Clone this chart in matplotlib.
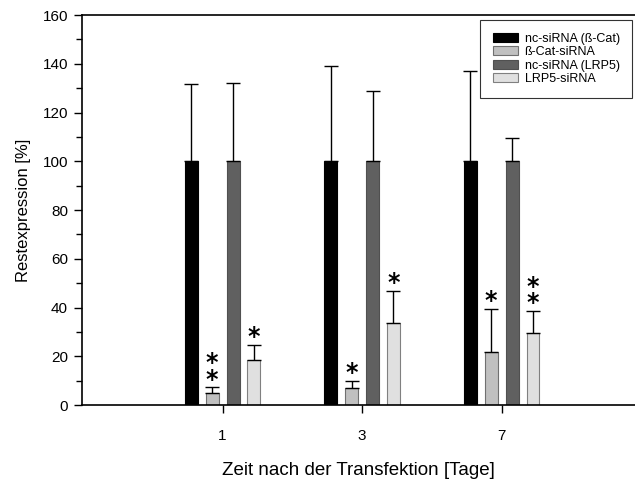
import numpy as np
import matplotlib.pyplot as plt
from matplotlib.ticker import MultipleLocator

plt.rcParams['font.family'] = ['Liberation Sans', 'DejaVu Sans']

tage = ['1', '3', '7']
serien = ['nc-siRNA (ß-Cat)', 'ß-Cat-siRNA', 'nc-siRNA (LRP5)', 'LRP5-siRNA']
werte = [
    [100, 100, 100],
    [4.8, 7.0, 21.6],
    [100, 100, 100],
    [18.7, 33.5, 29.7],
]
fehler = [
    [31.5, 39.0, 37.0],
    [2.5, 3.0, 18.0],
    [32.3, 29.0, 9.5],
    [5.9, 13.3, 9.0],
]
sterne = [
    [0, 0, 0],
    [2, 1, 1],
    [0, 0, 0],
    [1, 1, 2],
]

farben = ['#000000', '#c0c0c0', '#606060', '#e0e0e0']
kanten = ['#000000', '#707070', '#505050', '#808080']

fig = plt.figure(figsize=(6.35, 4.84), dpi=100)
ax = fig.add_axes([0.129, 0.163, 0.871, 0.806])

x = np.arange(len(tage))
versatz = [-0.225, -0.075, 0.075, 0.225]
breite = 0.093

for i in range(4):
    pos = x + versatz[i]
    ax.bar(pos, werte[i], breite, color=farben[i], edgecolor=kanten[i],
           linewidth=0.8, label=serien[i], zorder=2)
    ax.errorbar(pos, werte[i], yerr=[np.zeros(3), fehler[i]], fmt='none',
                ecolor='black', elinewidth=1.0, capsize=5, capthick=1.0, zorder=3)
    for j in range(3):
        n = sterne[i][j]
        if n == 0:
            continue
        top = werte[i][j] + fehler[i][j]
        ax.text(pos[j], top + 0.3, '\n'.join(['*'] * n), ha='center', va='baseline',
                fontsize=17, fontweight='bold', family='DejaVu Sans',
                linespacing=0.6, zorder=4)

ax.set_xlim(-1.008, 2.956)
ax.set_ylim(0, 160)
ax.set_xticks(x)
ax.set_xticklabels(tage)
ax.yaxis.set_major_locator(MultipleLocator(20))
ax.yaxis.set_minor_locator(MultipleLocator(10))
ax.tick_params(axis='both', direction='out', labelsize=11, length=6, width=1)
ax.tick_params(axis='y', which='minor', length=4, width=1)
ax.tick_params(axis='y', pad=4)
ax.tick_params(axis='x', pad=11)
ax.spines['right'].set_visible(False)
for s in ['left', 'top', 'bottom']:
    ax.spines[s].set_linewidth(1.2)

ax.set_ylabel('Restexpression [%]', fontsize=12, labelpad=8)
ax.set_xlabel('Zeit nach der Transfektion [Tage]', fontsize=13.5, labelpad=14)

leg = ax.legend(loc='upper right', bbox_to_anchor=(0.995, 0.987), fontsize=9,
                frameon=True, fancybox=False, edgecolor='black',
                handlelength=2.0, handleheight=0.75, borderpad=1.0,
                borderaxespad=0, labelspacing=0.12, handletextpad=0.55)
leg.get_frame().set_linewidth(0.8)

fig.savefig('out.png', dpi=100)
